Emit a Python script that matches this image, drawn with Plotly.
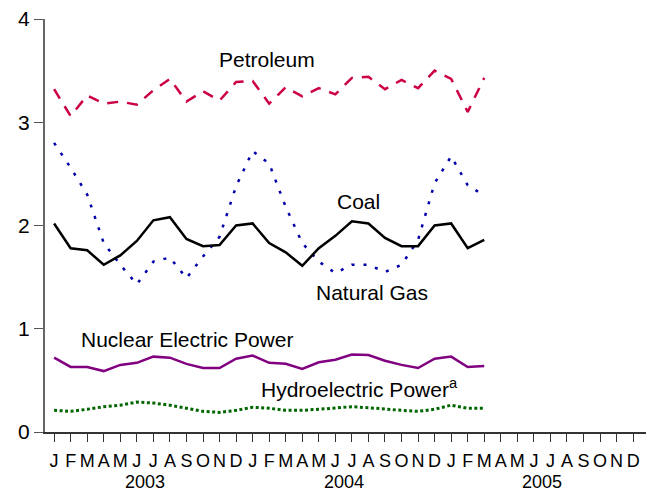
import plotly.graph_objects as go

months = ["J","F","M","A","M","J","J","A","S","O","N","D"] * 3
years = ["2003", "2004", "2005"]

petroleum = [3.32,3.06,3.26,3.18,3.20,3.17,3.31,3.42,3.20,3.30,3.21,3.39,
             3.40,3.18,3.34,3.25,3.33,3.27,3.43,3.44,3.32,3.41,3.33,3.50,
             3.42,3.10,3.43]
natural_gas = [2.80,2.56,2.30,1.83,1.62,1.43,1.65,1.69,1.49,1.70,1.89,2.38,
               2.72,2.60,2.18,1.83,1.65,1.54,1.62,1.62,1.55,1.62,1.86,2.41,
               2.67,2.39,2.29]
coal = [2.02,1.78,1.76,1.62,1.71,1.85,2.05,2.08,1.87,1.80,1.81,2.00,
        2.02,1.83,1.74,1.61,1.78,1.90,2.04,2.02,1.88,1.80,1.80,2.00,
        2.02,1.78,1.86]
nuclear = [0.72,0.63,0.63,0.59,0.65,0.67,0.73,0.72,0.66,0.62,0.62,0.71,
           0.74,0.67,0.66,0.61,0.675,0.70,0.75,0.745,0.69,0.65,0.62,0.71,
           0.73,0.63,0.64]
hydro = [0.21,0.20,0.22,0.245,0.26,0.29,0.28,0.26,0.23,0.20,0.19,0.21,
         0.24,0.23,0.21,0.21,0.22,0.235,0.245,0.235,0.22,0.21,0.20,0.22,
         0.26,0.23,0.23]

x = list(range(len(coal)))
FONT = "Liberation Sans, Arial, sans-serif"

fig = go.Figure()
fig.add_trace(go.Scatter(x=x, y=petroleum, mode="lines",
                         line=dict(color="#CC0044", width=2.5, dash="11px,9px")))
fig.add_trace(go.Scatter(x=x, y=natural_gas, mode="lines",
                         line=dict(color="#0000AA", width=2.5, dash="3px,9px")))
fig.add_trace(go.Scatter(x=x, y=coal, mode="lines",
                         line=dict(color="#000000", width=2.5)))
fig.add_trace(go.Scatter(x=x, y=nuclear, mode="lines",
                         line=dict(color="#800080", width=2.5)))
fig.add_trace(go.Scatter(x=x, y=hydro, mode="lines",
                         line=dict(color="#006600", width=3, dash="3px,2.5px")))

labels = [
    ("Petroleum", 12.87, 3.61),
    ("Coal", 18.37, 2.23),
    ("Natural Gas", 19.2, 1.35),
    ("Nuclear Electric Power", 8.04, 0.90),
    ("Hydroelectric Power<sup>a</sup>", 18.46, 0.43),
]
annotations = [dict(text=t, x=ax, y=ay, xref="x", yref="y", showarrow=False,
                    font=dict(size=21, color="black", family=FONT))
               for t, ax, ay in labels]
for i, yr in enumerate(years):
    annotations.append(dict(text=yr, x=5.5 + 12 * i, y=-0.121, xref="x", yref="paper",
                            showarrow=False, yanchor="middle",
                            font=dict(size=18, color="black", family=FONT)))

# page body has an 8px default margin, so the figure is sized to compensate
fig.update_layout(
    width=646, height=486,
    margin=dict(l=37, r=1, t=11, b=62, autoexpand=False),
    paper_bgcolor="white", plot_bgcolor="white",
    showlegend=False,
    font=dict(family=FONT, color="black"),
    annotations=annotations,
    xaxis=dict(range=[-0.55, 36.2], tickvals=list(range(36)), ticktext=months,
               ticks="outside", ticklen=8, tickcolor="#333", tickwidth=1,
               ticklabelstandoff=4, automargin=False, ticklabeloverflow="allow",
               showline=True, linecolor="#333", linewidth=1.5,
               showgrid=False, zeroline=False,
               tickfont=dict(size=18, family=FONT, color="black")),
    yaxis=dict(range=[0, 4], tickvals=[0, 1, 2, 3, 4], automargin=False,
               ticklabeloverflow="allow",
               ticks="outside", ticklen=9, tickcolor="#555", tickwidth=1,
               showline=True, linecolor="#666", linewidth=2,
               showgrid=False, zeroline=False,
               tickfont=dict(size=21, family=FONT, color="black")),
)

fig.write_html("out.html")
